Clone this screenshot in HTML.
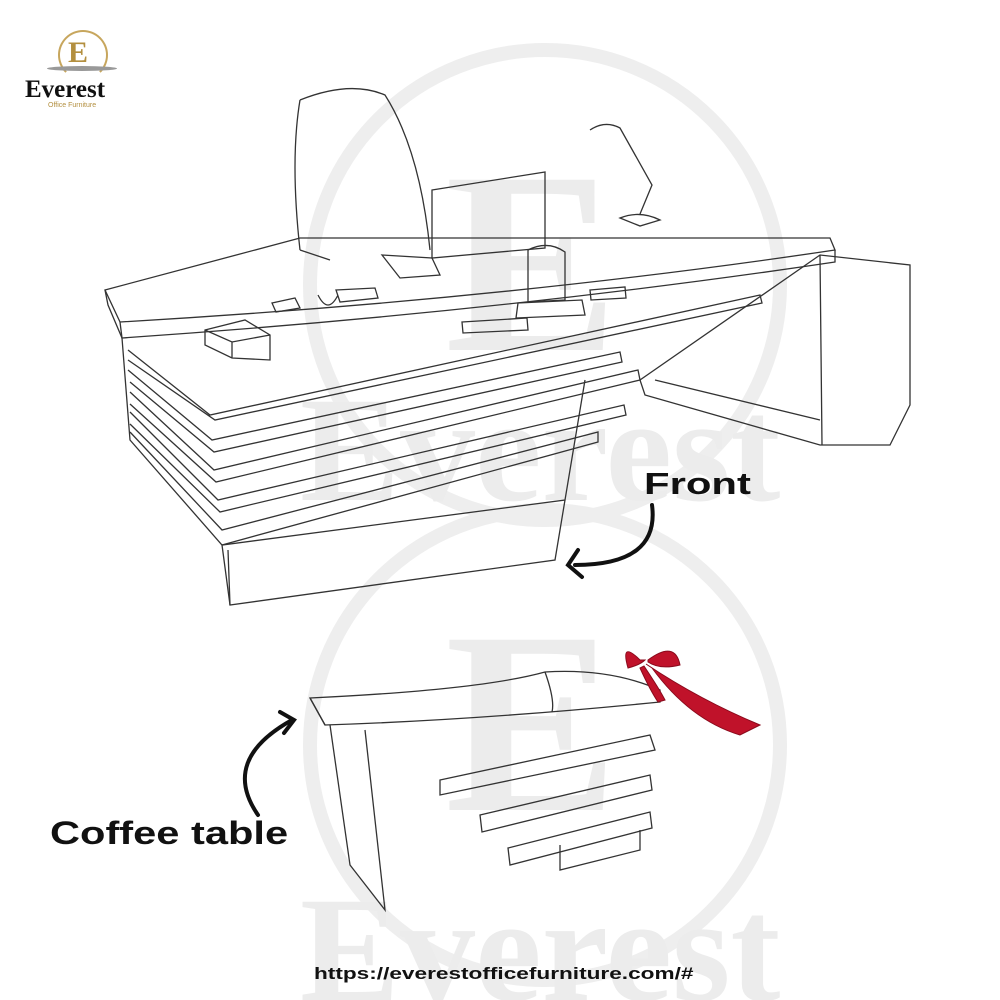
<!DOCTYPE html>
<html><head><meta charset="utf-8"><style>
html,body{margin:0;padding:0;background:#fff}
#c{position:relative;width:1000px;height:1000px;overflow:hidden;font-family:"Liberation Serif",serif}
.t{position:absolute;font-family:"Liberation Sans",sans-serif;font-weight:900;color:#111;transform-origin:0 0;white-space:nowrap}
</style></head><body><div id="c">
<svg width="1000" height="1000" viewBox="0 0 1000 1000" style="position:absolute;left:0;top:0">
<g fill="none" stroke="#eeeeee" stroke-width="14">
<circle cx="545" cy="285" r="235"/>
<circle cx="545" cy="745" r="235"/>
</g>
<g fill="#ececec" font-family="Liberation Serif" font-weight="bold">
<text x="445" y="350" font-size="260">E</text>
<text x="445" y="810" font-size="260">E</text>
<text x="300" y="500" font-size="150">Everest</text>
<text x="300" y="1000" font-size="150">Everest</text>
</g>
<g fill="none" stroke="#333" stroke-width="1.3">
<path d="M105,290 L300,238 L830,238 L835,250 Q500,300 120,322 Z"/>
<path d="M120,322 L122,338 Q500,312 835,262 L835,250"/>
<path d="M105,290 L108,305 L122,338"/>
<path d="M300,100 Q350,80 385,95 Q420,150 430,250 M300,100 Q290,160 300,250 M300,250 L330,260"/>
<path d="M432,190 L545,172 L545,248 L432,258 Z M382,255 L432,258 L440,275 L400,278 Z"/>
<path d="M590,130 Q605,120 620,128 L652,185 L640,214 M620,218 Q640,210 660,220 L640,226 Z"/>
<path d="M205,330 L245,320 L270,335 L270,360 L232,358 L205,345 Z M205,330 L232,342 L270,335 M232,342 L232,358"/>
<path d="M272,303 L295,298 L300,308 L276,312 Z M318,295 Q328,315 338,295 M336,290 L375,288 L378,298 L340,302 Z"/>
<path d="M528,250 Q548,240 565,252 L565,300 L528,302 Z M518,303 L582,300 L585,315 L516,318 Z"/>
<path d="M462,322 L527,318 L528,330 L463,333 Z M590,290 L625,287 L626,298 L591,300 Z"/>
<path d="M122,338 L130,440 L222,545 L565,500 L585,380"/>
<path d="M128,350 L210,415 L760,295 L762,303 L215,420 L128,360"/>
<path d="M128,370 L212,440 L620,352 L622,362 L214,452 L130,382"/>
<path d="M130,392 L214,470 L638,370 L640,380 L216,482 L130,404"/>
<path d="M130,412 L218,500 L624,405 L626,415 L220,512 L130,424"/>
<path d="M130,432 L222,530 L598,432 L598,442 L222,545"/>
<path d="M222,545 L230,605 L555,560 L565,500"/>
<path d="M230,605 L228,550"/>
<path d="M640,380 L645,395 L820,445 L890,445 L910,405 L910,265 L820,255 Z M820,255 L822,445 M655,380 L820,420"/>
</g>
<g fill="none" stroke="#333" stroke-width="1.3">
<path d="M310,698 Q480,690 545,672 Q610,668 660,690 L660,702 Q480,720 325,725 Z"/>
<path d="M310,698 L325,725 M545,672 Q555,700 552,712"/>
<path d="M330,725 L350,865 L385,910 L365,730"/>
<path d="M440,780 L650,735 L655,750 L440,795 Z M480,815 L650,775 L652,790 L482,832 Z M508,848 L650,812 L652,828 L510,865 Z"/>
<path d="M560,845 L560,870 L640,850 L640,830"/>
</g>
<g fill="#c0122a" stroke="#8a0a1c" stroke-width="1">
<path d="M640,660 Q620,640 628,668 Q640,665 645,660 Z"/>
<path d="M648,660 Q675,640 680,665 Q660,670 648,662 Z"/>
<path d="M646,664 Q700,700 760,725 L740,735 Q690,720 652,668 Z"/>
<path d="M644,666 Q660,690 665,700 L658,702 Q650,690 640,668 Z"/>
</g>
<g fill="none" stroke="#111" stroke-width="4" stroke-linecap="round">
<path d="M652,505 Q660,565 575,565"/>
<path d="M578,550 L568,565 L582,577"/>
<path d="M258,815 Q220,760 292,720"/>
<path d="M280,712 L294,720 L284,733"/>
</g>
</svg>
<div style="position:absolute;left:58px;top:30px;width:46px;height:46px;border:2px solid #c7a65d;border-radius:50%;border-bottom-color:transparent"></div>
<div style="position:absolute;left:68px;top:36px;font:bold 30px 'Liberation Serif',serif;color:#b38f3f">E</div>
<div style="position:absolute;left:47px;top:66px;width:70px;height:5px;background:#999;border-radius:50%"></div>
<div style="position:absolute;left:25px;top:76px;font:bold 25px 'Liberation Serif',serif;color:#111">Everest</div>
<div style="position:absolute;left:48px;top:102px;font:7px 'Liberation Sans',sans-serif;color:#b38f3f">Office Furniture</div>
<div class="t" style="left:644px;top:466px;font-size:31px;transform:scaleX(1.35)">Front</div>
<div class="t" style="left:50px;top:815px;font-size:32px;transform:scaleX(1.3)">Coffee table</div>
<div class="t" style="left:314px;top:964px;font-size:17px;transform:scaleX(1.33)">https://everestofficefurniture.com/#</div>
</div></body></html>
